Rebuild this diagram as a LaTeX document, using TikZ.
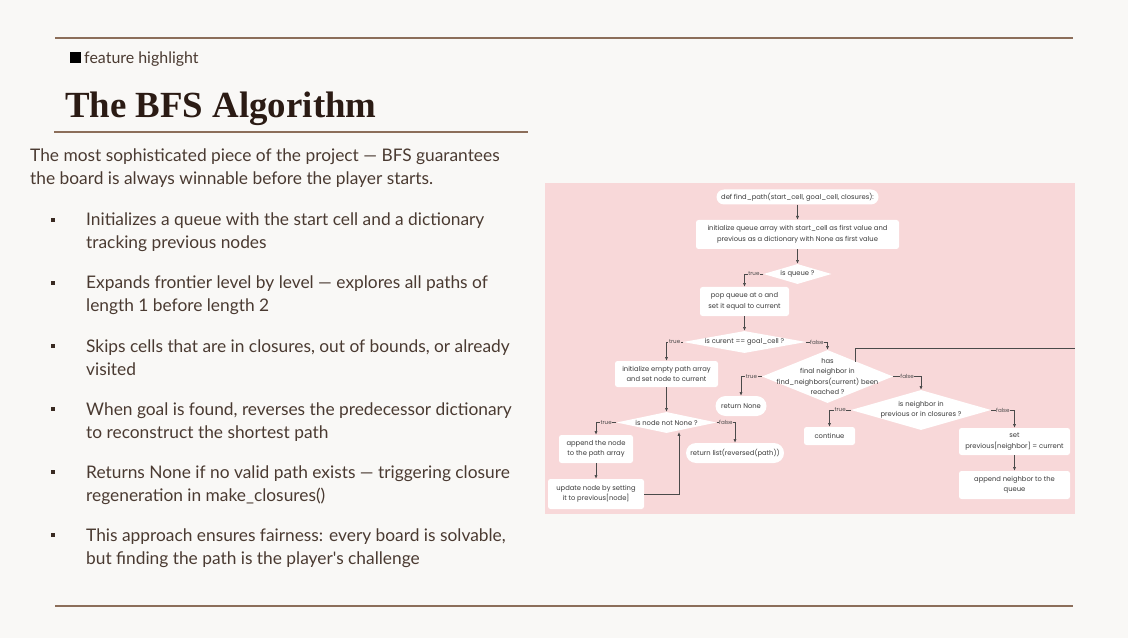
\documentclass[tikz,border=0pt]{standalone}
\usepackage{fontspec}
\usetikzlibrary{shapes.geometric,arrows.meta,calc}
\setmainfont{Lato}
\newfontfamily\myBodyFF{Lato}
\newfontfamily\myTitleFF{Liberation Serif}
\newfontfamily\myChartFF{Poppins}
\newcommand\myBodyFont{\myBodyFF\fontsize{17.4}{20}\selectfont}
\newcommand\myTagFont{\myBodyFF\fontsize{16}{17}\selectfont}
\newcommand\myTitleFont{\myTitleFF\bfseries\fontsize{37}{40}\selectfont}
\newcommand\myChartFont{\myChartFF\fontsize{6.8}{10.6}\selectfont}
\newcommand\myLabFont{\myChartFF\fontsize{5.6}{6}\selectfont}
\definecolor{bgc}{HTML}{F9F8F6}
\definecolor{rulec}{HTML}{8C6E5A}
\definecolor{titlec}{HTML}{2B1B14}
\definecolor{bodyc}{HTML}{4A3A31}
\definecolor{bulletc}{HTML}{3A2A22}
\definecolor{pinkbg}{HTML}{F8D8D9}
\definecolor{chartc}{HTML}{3A3A3A}
\definecolor{arrowc}{HTML}{4A4A4A}
\tikzset{
  bodytext/.style={anchor=base west, inner sep=0, font=\myBodyFont, text=bodyc},
  bulletsq/.style={fill=bulletc, inner sep=0, minimum size=4.5bp},
  rulel/.style={draw=rulec, line width=1.3bp},
  box/.style={fill=white, rounded corners=2.5bp, inner sep=0, align=center, font=\myChartFont, text=chartc},
  pill/.style={box, rounded corners=9bp},
  dia/.style={diamond, fill=white, inner sep=0},
  diatext/.style={font=\myChartFont, text=chartc, align=center, inner sep=0},
  arr/.style={draw=arrowc, line width=0.7bp, -{Latex[length=3.8bp,width=3.2bp]}},
  plainline/.style={draw=arrowc, line width=0.7bp},
  lab/.style={font=\myLabFont, fill=pinkbg, inner sep=0.6bp, text=arrowc, pos=0.25}
}
\begin{document}
\begin{tikzpicture}[x=1bp,y=-1bp]
\useasboundingbox (0,0) rectangle (1128,638);
\fill[bgc] (0,0) rectangle (1128,638);
% rules
\draw[rulel] (55,38) -- (1073,38);
\draw[rulel] (54,132) -- (528,132);
\draw[rulel] (55,606) -- (1073,606);
% tag
\node[fill=black, inner sep=0, minimum size=11bp] (tagsq) at (75.5,57.5) {};
\node[anchor=base west, inner sep=0, font=\myTagFont, text=bodyc] (tag) at (84,64) {feature highlight};
% title
\node[anchor=base west, inner sep=0, font=\myTitleFont, text=titlec] (title) at (65,118) {The BFS Algorithm};
% intro
\node[bodytext] (p1) at (30,162) {The most sophisticated piece of the project — BFS guarantees};
\node[bodytext] (p2) at (30,185) {the board is always winnable before the player starts.};
% bullets
\foreach \i/\la/\lb in {
 0/{Initializes a queue with the start cell and a dictionary}/{tracking previous nodes},
 1/{Expands frontier level by level — explores all paths of}/{length 1 before length 2},
 2/{Skips cells that are in closures, out of bounds, or already}/{visited},
 3/{When goal is found, reverses the predecessor dictionary}/{to reconstruct the shortest path},
 4/{Returns None if no valid path exists — triggering closure}/{regeneration in make\_closures()},
 5/{This approach ensures fairness: every board is solvable,}/{but finding the path is the player's challenge}}{
  \node[bulletsq] (bs\i) at (53,{220+63*\i}) {};
  \node[bodytext] (ba\i) at (86,{226+63*\i}) {\la};
  \node[bodytext] (bb\i) at (86,{249+63*\i}) {\lb};
}
% chart background
\fill[pinkbg] (545,183) rectangle (1075,514);
% chart nodes
\node[pill, minimum width=162bp, minimum height=15bp, rounded corners=7.5bp] (def) at (797.5,197) {def find\_path(start\_cell, goal\_cell, closures):};
\node[box, minimum width=203bp, minimum height=29bp] (init) at (797.5,234.5) {initialize queue array with start\_cell as first value and\\previous as a dictionary with None as first value};
\node[dia, minimum width=68bp, minimum height=20bp, label={[diatext]center:is queue ?}] (qq) at (797.5,274) {};
\node[box, minimum width=89bp, minimum height=29bp] (pop) at (744.5,301.5) {pop queue at o and\\set it equal to current};
\node[dia, minimum width=123bp, minimum height=22bp, label={[diatext]center:is curent == goal\_cell ?}] (goal) at (744.5,342) {};
\node[box, minimum width=103bp, minimum height=26bp] (initpath) at (666.5,374) {initialize empty path array\\and set node to current};
\node[dia, minimum width=100bp, minimum height=21bp, label={[diatext]center:is node not None ?}] (notnone) at (666.5,422.5) {};
\node[box, minimum width=74bp, minimum height=28bp] (append) at (596,449) {append the node\\to the path array};
\node[box, minimum width=96bp, minimum height=30bp] (update) at (596,494) {update node by setting\\it to previous[node]};
\node[pill, minimum width=98bp, minimum height=20bp, rounded corners=10bp] (retlist) at (735,453) {return list(reversed(path))};
\node[dia, minimum width=131bp, minimum height=53bp, label={[diatext]center:has\\final neighbor in\\find\_neighbors(current) been\\reached ?}] (has) at (827.5,376.5) {};
\node[pill, minimum width=51bp, minimum height=20bp, rounded corners=10bp] (retnone) at (741,406) {return None};
\node[dia, minimum width=140bp, minimum height=40bp, label={[diatext]center:is neighbor in\\previous or in closures ?}] (inprev) at (921,410) {};
\node[box, minimum width=51bp, minimum height=18bp] (cont) at (829.5,436) {continue};
\node[box, minimum width=111bp, minimum height=27bp] (setprev) at (1014.5,441.5) {set\\previous[neighbor] = current};
\node[box, minimum width=111bp, minimum height=28bp] (appq) at (1014.5,485) {append neighbor to the\\queue};
% helper coordinates
\coordinate (loopend) at (679,432);
\coordinate (hasedge) at (855,361.5);
\coordinate (loopout) at (1075,348);
% connectors
\draw[arr] (def) -- (init);
\draw[arr] (init) -- (qq);
\draw[arr] (qq.west) -| node[lab]{true} (pop.north);
\draw[arr] (pop) -- (goal);
\draw[arr] (goal.west) -| node[lab]{true} (initpath.north);
\draw[arr] (goal.east) -| node[lab]{false} (has.north);
\draw[arr] (initpath) -- (notnone);
\draw[arr] (notnone.west) -| node[lab]{true} (append.north);
\draw[arr] (notnone.east) -| node[lab]{false} (retlist.north);
\draw[arr] (append) -- (update);
\draw[arr] (update.east) -| (loopend);
\draw[arr] (has.west) -| node[lab]{true} (retnone.north);
\draw[arr] (has.east) -| node[lab]{false} (inprev.north);
\draw[arr] (inprev.west) -| node[lab]{true} (cont.north);
\draw[arr] (inprev.east) -| node[lab]{false} (setprev.north);
\draw[arr] (setprev) -- (appq);
\draw[plainline] (hasedge) |- (loopout);
\end{tikzpicture}
\end{document}
